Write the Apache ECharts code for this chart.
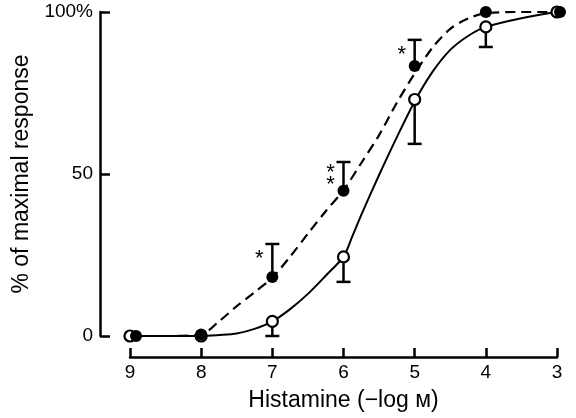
<!DOCTYPE html>
<html>
<head>
<meta charset="utf-8">
<script src="https://cdn.jsdelivr.net/npm/echarts@6/dist/echarts.min.js"></script>
<style>html,body{margin:0;padding:0;background:#fff}#c{width:576px;height:418px}</style>
</head>
<body>
<div id="c"></div>
<script>
// ---- data ----
const xTicks = [9, 8, 7, 6, 5, 4, 3];
const yTickLabels = { 0: '0', 50: '50', 100: '100%' };

// Histamine (-log M) doses and mean responses
const doseX = [9, 8, 7, 6, 5, 4, 3];
const filledY = [0, 0.5, 18.2, 44.8, 83.3, 100, 100];   // ● (dashed curve)
const openY   = [0, 0, 4.5, 24.4, 73, 95.4, 100];        // ○ (solid curve)

// error bars: [x, mean, bound]
const filledErr = [[7, 18.2, 28.4], [6, 44.8, 53.7], [5, 83.3, 91.4]];
const openErr   = [[7, 4.5, 0], [6, 24.4, 16.7], [5, 73, 59.3], [4, 95.4, 89.2]];

// significance marks placed at the error-bar tops
const sigMarks = [[7, 28.4, '*'], [6, 53.7, '*\n*'], [5, 91.4, '*']];

// fitted curves
const dashCurveX  = [9, 8.5, 8, 7.75, 7.5, 7.25, 7, 6.75, 6.5, 6.25, 6, 5.75, 5.5, 5.25, 5, 4.75, 4.5, 4.25, 4, 3.5, 3];
const dashCurveY  = [0, 0, 0.5, 4.5, 9.2, 13.5, 18, 24.5, 31.6, 38.5, 45, 53.4, 62, 72, 81, 89, 94.8, 98, 99.6, 100, 100];
const solidCurveX = [9, 8.5, 8, 7.75, 7.5, 7.25, 7, 6.75, 6.5, 6.25, 6, 5.875, 5.75, 5.5, 5.25, 5, 4.75, 4.5, 4.25, 4, 3.5, 3];
const solidCurveY = [0, 0, 0, 0.3, 0.8, 2.2, 4.5, 8.3, 13, 18.6, 24.5, 30.8, 37.4, 49.7, 61.4, 72.4, 81.5, 88.3, 92.6, 95.4, 98.1, 100];

const FONT = '"Liberation Sans", Arial, Helvetica, sans-serif';
const pair = (xs, ys) => xs.map((x, i) => [x, ys[i]]);

const chart = echarts.init(document.getElementById('c'), null, { renderer: 'canvas' });

function errRender(params, api) {
  const x = api.value(0), m = api.value(1), b = api.value(2);
  const p1 = api.coord([x, m]), p2 = api.coord([x, b]);
  const half = 7;
  return {
    type: 'group',
    children: [
      { type: 'line', shape: { x1: p1[0], y1: p1[1], x2: p2[0], y2: p2[1] }, style: { stroke: '#000', lineWidth: 2.5 } },
      { type: 'line', shape: { x1: p2[0] - half, y1: p2[1], x2: p2[0] + half, y2: p2[1] }, style: { stroke: '#000', lineWidth: 2.5 } }
    ]
  };
}

function sigRender(params, api) {
  const p = api.coord([api.value(0), api.value(1)]);
  const txt = sigMarks[params.dataIndex][2];
  const dy = txt.indexOf('\n') >= 0 ? 5 : 9;
  return {
    type: 'text',
    x: p[0] - 13,
    y: p[1] + dy,
    style: { text: txt, fill: '#000', font: '22px ' + FONT, align: 'center', verticalAlign: 'top', lineHeight: 12 }
  };
}

const filledPts = pair(doseX, filledY).map((v) => {
  if (v[0] === 9) return { value: v, symbolOffset: [6, 0] };
  if (v[0] === 3) return { value: v, symbolOffset: [3, 0] };
  return { value: v };
});

chart.setOption({
  animation: false,
  backgroundColor: '#fff',
  textStyle: { fontFamily: FONT },
  grid: { left: 130, right: 19, top: 12, bottom: 82 },
  xAxis: {
    type: 'value', min: 3, max: 9, interval: 1, inverse: true,
    offset: 21,
    axisLine: { show: true, onZero: false, lineStyle: { color: '#000', width: 2.5 } },
    axisTick: { show: true, inside: true, length: 9, lineStyle: { color: '#000', width: 2.5 } },
    axisLabel: { color: '#000', fontSize: 19, fontFamily: FONT, margin: 6,
      formatter: v => xTicks.includes(v) ? String(v) : '' },
    splitLine: { show: false },
    name: 'Histamine (\u2212log \u043c)', nameLocation: 'middle', nameGap: 32,
    nameTextStyle: { color: '#000', fontSize: 23, fontFamily: FONT }
  },
  yAxis: {
    type: 'value', min: 0, max: 100, interval: 50,
    offset: 30,
    axisLine: { show: true, onZero: false, lineStyle: { color: '#000', width: 2.5 } },
    axisTick: { show: true, inside: true, length: 10, lineStyle: { color: '#000', width: 2.5 } },
    axisLabel: { color: '#000', fontSize: 19, fontFamily: FONT, margin: 7,
      formatter: v => yTickLabels[v] !== undefined ? yTickLabels[v] : '' },
    splitLine: { show: false },
    name: '% of maximal response', nameLocation: 'middle', nameGap: 63, nameRotate: 90,
    nameTextStyle: { color: '#000', fontSize: 23, fontFamily: FONT }
  },
  series: [
    { type: 'line', data: pair(dashCurveX, dashCurveY), smooth: 0.3, showSymbol: false, symbol: 'none',
      lineStyle: { color: '#000', width: 2.2, type: [10, 6] }, z: 2 },
    { type: 'line', data: pair(solidCurveX, solidCurveY), smooth: 0.3, showSymbol: false, symbol: 'none',
      lineStyle: { color: '#000', width: 2 }, z: 2 },
    { type: 'custom', data: filledErr, encode: { x: 0, y: [1, 2] }, renderItem: errRender, z: 3 },
    { type: 'custom', data: openErr, encode: { x: 0, y: [1, 2] }, renderItem: errRender, z: 3 },
    { type: 'custom', data: sigMarks.map(s => [s[0], s[1]]), encode: { x: 0, y: 1 }, renderItem: sigRender, z: 5 },
    { type: 'scatter', data: pair(doseX, openY), symbol: 'circle', symbolSize: 11,
      itemStyle: { color: '#fff', borderColor: '#000', borderWidth: 2.2, opacity: 1 }, z: 4 },
    { type: 'scatter', data: filledPts, symbol: 'circle', symbolSize: 12,
      itemStyle: { color: '#000', opacity: 1 }, z: 5 }
  ]
});
</script>
</body>
</html>
